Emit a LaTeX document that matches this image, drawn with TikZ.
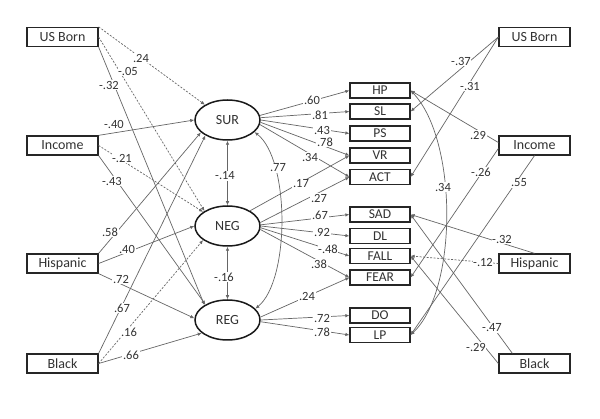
\documentclass[tikz,border=0pt]{standalone}
\usepackage{fontspec}
\setmainfont{Carlito}
\usetikzlibrary{arrows.meta,calc,shapes.geometric}
\begin{document}
\begin{tikzpicture}[x=1pt,y=-1pt,
  lbox/.style={draw=black!85,line width=1.3pt,minimum width=71pt,minimum height=19pt,inner sep=0pt,font=\fontsize{14}{14}\selectfont,text=black!80},
  ind/.style={draw=black!85,line width=1.2pt,minimum width=60pt,minimum height=15pt,inner sep=0pt,font=\fontsize{13.5}{13.5}\selectfont,text=black!80},
  lat/.style={ellipse,draw=black!90,line width=1.5pt,minimum width=65pt,minimum height=40pt,inner sep=0pt,font=\fontsize{14}{14}\selectfont,text=black!80},
  pth/.style={draw=black!60,line width=0.7pt,-{Latex[length=4pt,width=3.5pt]}},
  cov/.style={draw=black!60,line width=0.7pt,{Latex[length=4pt,width=3.5pt]}-{Latex[length=4pt,width=3.5pt]}},
  dsh/.style={dash pattern=on 2pt off 1.5pt},
  lab/.style={fill=white,inner sep=0.6pt,font=\fontsize{12.5}{12.5}\selectfont,text=black!80}
]
\fill[white] (0,0) rectangle (600,419);
\useasboundingbox (0,0) rectangle (600,419);

% left exogenous boxes
\node[lbox] (LUS)  at (62.5,37)    {US Born};
\node[lbox] (LInc) at (62.5,145.5) {Income};
\node[lbox] (LHis) at (62.5,263.5) {Hispanic};
\node[lbox] (LBlk) at (62.5,363.5) {Black};

% latent factors
\node[lat] (SUR) at (227.5,120) {SUR};
\node[lat] (NEG) at (227.5,226) {NEG};
\node[lat] (REG) at (227.5,320) {REG};

% indicators
\node[ind] (HP)   at (380,90.5)  {HP};
\node[ind] (SL)   at (380,111.5) {SL};
\node[ind] (PS)   at (380,133.5) {PS};
\node[ind] (VR)   at (380,155.5) {VR};
\node[ind] (ACT)  at (380,177)   {ACT};
\node[ind] (SAD)  at (380,214.5) {SAD};
\node[ind] (DL)   at (380,236)   {DL};
\node[ind] (FALL) at (380,256)   {FALL};
\node[ind] (FEAR) at (380,277.5) {FEAR};
\node[ind] (DO)   at (380,315.5) {DO};
\node[ind] (LP)   at (380,335)   {LP};

% right boxes
\node[lbox] (RUS)  at (534.5,37)    {US Born};
\node[lbox] (RInc) at (534.5,145.5) {Income};
\node[lbox] (RHis) at (534.5,263.5) {Hispanic};
\node[lbox] (RBlk) at (534.5,363.5) {Black};

% left paths
\draw[pth,dsh] (LUS.north east) -- (SUR.146);
\draw[pth,dsh] (LUS.east) -- (NEG.147);
\draw[pth] (LUS.south east) -- (REG.147);
\draw[pth] (LInc.north east) -- (SUR.180);
\draw[pth,dsh] (LInc.east) -- (NEG.150);
\draw[pth] (LInc.south east) -- (REG.145);
\draw[pth] (LHis.north east) -- (SUR.205);
\draw[pth] (LHis.east) -- (NEG.180);
\draw[pth] (LHis.south east) -- (REG.177);
\draw[pth] (LBlk.north east) -- (SUR.215);
\draw[pth,dsh] (LBlk.east) -- (NEG.210);
\draw[pth] (LBlk.east) -- (REG.207);

% factor covariances
\draw[cov] (SUR.south) -- (NEG.north);
\draw[cov] (NEG.south) -- (REG.north);
\draw[cov] (SUR.336) .. controls (290,160) and (290,280) .. (REG.22);

% loadings
\draw[pth] (SUR.8) -- (HP.west);
\draw[pth] (SUR.4) -- (SL.west);
\draw[pth] (SUR.0) -- (PS.west);
\draw[pth] (SUR.-4) -- (VR.west);
\draw[pth] (SUR.-8) -- (ACT.west);
\draw[pth] (NEG.34) -- (VR.west);
\draw[pth] (NEG.6) -- (ACT.west);
\draw[pth] (NEG.2) -- (SAD.west);
\draw[pth] (NEG.0) -- (DL.west);
\draw[pth] (NEG.-3) -- (FALL.west);
\draw[pth] (NEG.-6) -- (FEAR.west);
\draw[pth] (REG.5) -- (FEAR.west);
\draw[pth] (REG.0) -- (DO.west);
\draw[pth] (REG.-3) -- (LP.west);

% right paths
\draw[pth] (RUS.west) -- (SL.east);
\draw[pth] (RUS.west) -- (ACT.east);
\draw[pth] ($(RInc.west)+(0,-3)$) -- (HP.east);
\draw[pth] ($(RInc.west)+(0,3)$) -- (FEAR.east);
\draw[pth] (RInc.south) -- (LP.east);
\draw[pth] (RHis.north) -- (SAD.east);
\draw[pth,dsh] (RHis.west) -- (FALL.east);
\draw[pth] ($(RBlk.north west)+(14,0)$) -- (SAD.east);
\draw[pth] (RBlk.west) -- (FALL.east);
\draw[cov] (HP.east) .. controls (458,140) and (458,290) .. (LP.east);

% labels left
\node[lab] (l1)  at (141,58)  {.24};
\node[lab] (l2)  at (128,71)  {-.05};
\node[lab] (l3)  at (109,85)  {-.32};
\node[lab] (l4)  at (114,124) {-.40};
\node[lab] (l5)  at (122,158) {-.21};
\node[lab] (l6)  at (112,181) {-.43};
\node[lab] (l7)  at (110,232) {.58};
\node[lab] (l8)  at (127,249) {.40};
\node[lab] (l9)  at (121,279) {.72};
\node[lab] (l10) at (122,308) {.67};
\node[lab] (l11) at (129,332) {.16};
\node[lab] (l12) at (131,355) {.66};
\node[lab] (l13) at (225,176) {-.14};
\node[lab] (l14) at (224,277) {-.16};
\node[lab] (l15) at (278,168) {.77};
% labels loadings
\node[lab] (m1)  at (312,100) {.60};
\node[lab] (m2)  at (320,115) {.81};
\node[lab] (m3)  at (322,130) {.43};
\node[lab] (m4)  at (325,142) {.78};
\node[lab] (m5)  at (310,157) {.34};
\node[lab] (m6)  at (301,184) {.17};
\node[lab] (m7)  at (319,198) {.27};
\node[lab] (m8)  at (320,215) {.67};
\node[lab] (m9)  at (322,232) {.92};
\node[lab] (m10) at (328,249) {-.48};
\node[lab] (m11) at (319,264) {.38};
\node[lab] (m12) at (307,296) {.24};
\node[lab] (m13) at (322,318) {.72};
\node[lab] (m14) at (322,332) {.78};
% labels right
\node[lab] (r1)  at (461,61)  {-.37};
\node[lab] (r2)  at (470,86)  {-.31};
\node[lab] (r3)  at (478,135) {.29};
\node[lab] (r4)  at (481,172) {-.26};
\node[lab] (r5)  at (443,187) {.34};
\node[lab] (r6)  at (519,183) {.55};
\node[lab] (r7)  at (502,239) {-.32};
\node[lab] (r8)  at (483,262) {-.12};
\node[lab] (r9)  at (492,328) {-.47};
\node[lab] (r10) at (476,347) {-.29};
\end{tikzpicture}
\end{document}
